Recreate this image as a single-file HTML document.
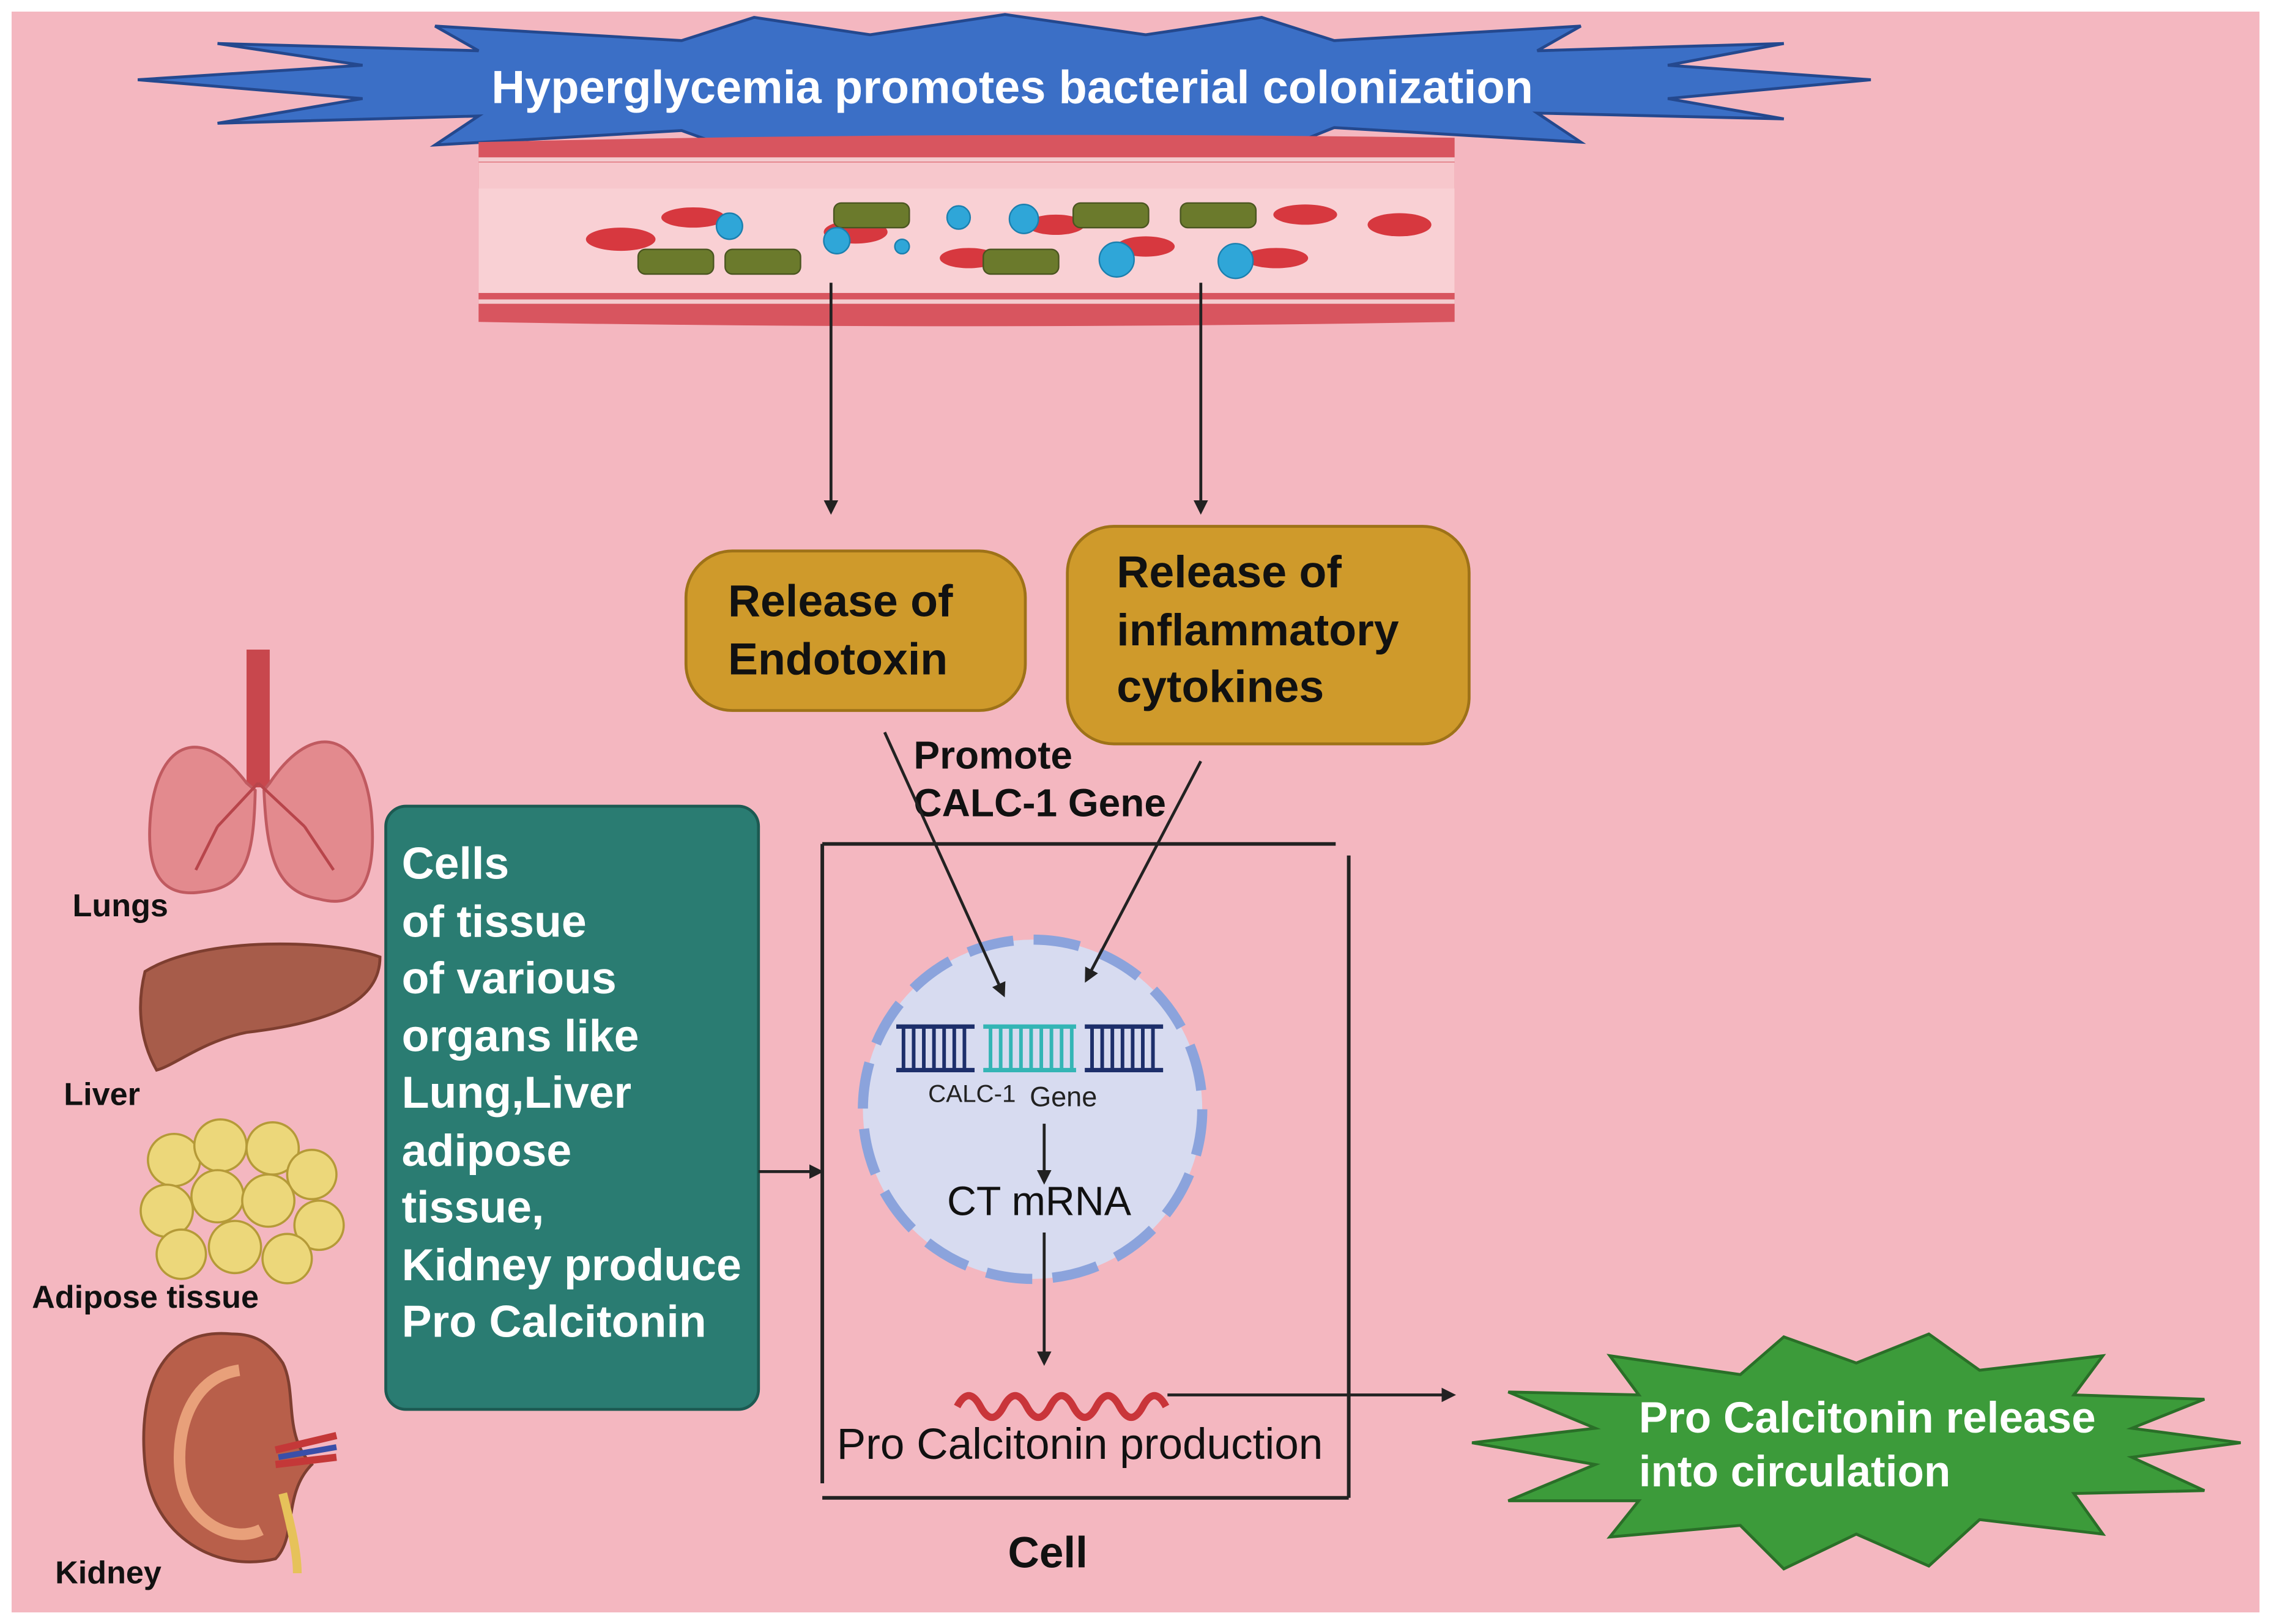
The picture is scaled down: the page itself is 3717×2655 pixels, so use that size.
<!DOCTYPE html>
<html><head><meta charset="utf-8"><style>
html,body{margin:0;padding:0;background:#fff;}
svg{display:block;}
text{font-family:"Liberation Sans",sans-serif;}
</style></head><body>
<svg width="3717" height="2655" viewBox="0 0 1568 1120" xmlns="http://www.w3.org/2000/svg">
<defs>
<marker id="ah" markerWidth="10" markerHeight="10" refX="8" refY="5" orient="auto" markerUnits="userSpaceOnUse"><path d="M0,0 L10,5 L0,10 z" fill="#222"/></marker>
</defs>
<rect x="0" y="0" width="1568" height="1120" fill="#fff"/>
<rect x="8" y="8" width="1550" height="1104" fill="#f4b7c0"/>

<polygon fill="#3b6fc6" stroke="#24488e" stroke-width="2" points="
95,55 250,45 150,30 330,35 300,18 470,28 520,12 600,24 693,10 790,24 870,12 920,28 1090,18 1060,35 1230,30 1150,45 1290,55
1150,68 1230,82 1060,78 1090,98 920,88 870,108 790,95 693,110 600,95 520,108 470,90 300,100 330,80 150,85 250,68"/>
<text x="698" y="71" fill="#fff" font-size="32" font-weight="bold" text-anchor="middle">Hyperglycemia promotes bacterial colonization</text>

<path d="M330,98 Q660,90 1003,95 L1003,222 Q660,228 330,222 Z" fill="#d8555f"/>
<rect x="330" y="112" width="673" height="90" fill="#f7c7cc"/>
<rect x="330" y="130" width="673" height="72" fill="#f9d0d4"/>
<line x1="330" y1="110" x2="1003" y2="110" stroke="#fff" stroke-width="3" opacity="0.7"/>
<line x1="330" y1="208" x2="1003" y2="208" stroke="#fff" stroke-width="3" opacity="0.7"/>
<g fill="#d7383f">
<ellipse cx="428" cy="165" rx="24" ry="8"/><ellipse cx="478" cy="150" rx="22" ry="7"/>
<ellipse cx="590" cy="160" rx="22" ry="8"/><ellipse cx="668" cy="178" rx="20" ry="7"/>
<ellipse cx="728" cy="155" rx="20" ry="7"/><ellipse cx="790" cy="170" rx="20" ry="7"/>
<ellipse cx="900" cy="148" rx="22" ry="7"/><ellipse cx="965" cy="155" rx="22" ry="8"/>
<ellipse cx="880" cy="178" rx="22" ry="7"/>
</g>
<g fill="#6b7a2c" stroke="#4a5520" stroke-width="1">
<rect x="440" y="172" width="52" height="17" rx="5"/><rect x="500" y="172" width="52" height="17" rx="5"/>
<rect x="575" y="140" width="52" height="17" rx="5"/><rect x="678" y="172" width="52" height="17" rx="5"/>
<rect x="740" y="140" width="52" height="17" rx="5"/><rect x="814" y="140" width="52" height="17" rx="5"/>
</g>
<g fill="#2fa6d8" stroke="#1b7fae" stroke-width="1">
<circle cx="503" cy="156" r="9"/><circle cx="577" cy="166" r="9"/><circle cx="622" cy="170" r="5"/>
<circle cx="661" cy="150" r="8"/><circle cx="706" cy="151" r="10"/><circle cx="770" cy="179" r="12"/>
<circle cx="852" cy="180" r="12"/>
</g>

<line x1="573" y1="195" x2="573" y2="353" stroke="#222" stroke-width="2" marker-end="url(#ah)"/>
<line x1="828" y1="195" x2="828" y2="353" stroke="#222" stroke-width="2" marker-end="url(#ah)"/>

<rect x="473" y="380" width="234" height="110" rx="32" fill="#cf9a2b" stroke="#9e7218" stroke-width="2"/>
<text x="502" y="425" font-size="31" font-weight="bold" fill="#111">Release of</text>
<text x="502" y="465" font-size="31" font-weight="bold" fill="#111">Endotoxin</text>
<rect x="736" y="363" width="277" height="150" rx="32" fill="#cf9a2b" stroke="#9e7218" stroke-width="2"/>
<text x="770" y="405" font-size="31" font-weight="bold" fill="#111">Release of</text>
<text x="770" y="445" font-size="31" font-weight="bold" fill="#111">inflammatory</text>
<text x="770" y="484" font-size="31" font-weight="bold" fill="#111">cytokines</text>

<text x="630" y="530" font-size="27" font-weight="bold" fill="#111">Promote</text>
<text x="630" y="563" font-size="27" font-weight="bold" fill="#111">CALC-1 Gene</text>

<g stroke="#222" stroke-width="2.5" fill="none">
<line x1="567" y1="582" x2="921" y2="582"/>
<line x1="567" y1="582" x2="567" y2="1023"/>
<line x1="930" y1="590" x2="930" y2="1033"/>
<line x1="567" y1="1033" x2="930" y2="1033"/>
</g>
<circle cx="712" cy="765" r="117" fill="#d7dbf0" stroke="#8ba3dc" stroke-width="7" stroke-dasharray="32 14"/>
<g stroke-width="3">
<line x1="618" y1="708" x2="672" y2="708" stroke="#1d2f6b"/><line x1="618" y1="738" x2="672" y2="738" stroke="#1d2f6b"/>
<line x1="678" y1="708" x2="742" y2="708" stroke="#34b5b5"/><line x1="678" y1="738" x2="742" y2="738" stroke="#34b5b5"/>
<line x1="748" y1="708" x2="802" y2="708" stroke="#1d2f6b"/><line x1="748" y1="738" x2="802" y2="738" stroke="#1d2f6b"/>
</g>
<g stroke-width="2.5">
<path d="M623,708V738M630,708V738M637,708V738M644,708V738M651,708V738M658,708V738M665,708V738" stroke="#1d2f6b"/>
<path d="M683,708V738M690,708V738M697,708V738M704,708V738M711,708V738M718,708V738M725,708V738M732,708V738M739,708V738" stroke="#34b5b5"/>
<path d="M753,708V738M760,708V738M767,708V738M774,708V738M781,708V738M788,708V738M795,708V738" stroke="#1d2f6b"/>
</g>
<text x="640" y="760" font-size="17" fill="#222">CALC-1</text>
<text x="710" y="763" font-size="19" fill="#222">Gene</text>
<line x1="720" y1="775" x2="720" y2="815" stroke="#222" stroke-width="2" marker-end="url(#ah)"/>
<text x="653" y="838" font-size="28" fill="#111">CT mRNA</text>
<line x1="720" y1="850" x2="720" y2="940" stroke="#222" stroke-width="2" marker-end="url(#ah)"/>
<path d="M660,970 q8,-15 16,0 q8,15 16,0 q8,-15 16,0 q8,15 16,0 q8,-15 16,0 q8,15 16,0 q8,-15 16,0 q8,15 16,0 q8,-15 16,0" fill="none" stroke="#c9353a" stroke-width="5"/>
<text x="577" y="1006" font-size="30" fill="#111">Pro Calcitonin production</text>
<line x1="805" y1="962" x2="1002" y2="962" stroke="#222" stroke-width="2" marker-end="url(#ah)"/>
<text x="695" y="1081" font-size="30" font-weight="bold" fill="#111">Cell</text>

<line x1="610" y1="505" x2="692" y2="686" stroke="#222" stroke-width="2" marker-end="url(#ah)"/>
<line x1="828" y1="525" x2="749" y2="676" stroke="#222" stroke-width="2" marker-end="url(#ah)"/>

<rect x="266" y="556" width="257" height="416" rx="14" fill="#2a7c72" stroke="#1c5a52" stroke-width="2"/>
<g font-size="31" font-weight="bold" fill="#fff">
<text x="277" y="606">Cells</text><text x="277" y="646">of tissue</text><text x="277" y="685">of various</text>
<text x="277" y="725">organs like</text><text x="277" y="764">Lung,Liver</text><text x="277" y="804">adipose</text>
<text x="277" y="843">tissue,</text><text x="277" y="883">Kidney produce</text><text x="277" y="922">Pro Calcitonin</text>
</g>
<line x1="523" y1="808" x2="566" y2="808" stroke="#222" stroke-width="2" marker-end="url(#ah)"/>

<polygon fill="#3c9b3a" stroke="#2a6f28" stroke-width="2" points="
1015,995 1100,985 1040,960 1130,962 1110,935 1200,948 1230,922 1280,940 1330,920 1365,945 1450,935 1430,962 1520,965 1470,985 1545,995
1470,1005 1520,1028 1430,1030 1450,1058 1365,1048 1330,1080 1280,1058 1230,1082 1200,1052 1110,1060 1130,1035 1040,1035 1100,1010"/>
<text x="1130" y="988" font-size="30" font-weight="bold" fill="#fff">Pro Calcitonin release</text>
<text x="1130" y="1025" font-size="30" font-weight="bold" fill="#fff">into circulation</text>

<rect x="170" y="448" width="16" height="95" fill="#c8474d"/>
<path d="M170,540 C140,500 110,510 104,560 C100,600 110,620 140,615 C170,612 175,590 176,545 Z" fill="#e38a8e" stroke="#c05a60" stroke-width="2"/>
<path d="M186,540 C216,495 250,505 256,560 C260,605 250,628 220,620 C190,615 184,590 182,545 Z" fill="#e38a8e" stroke="#c05a60" stroke-width="2"/>
<path d="M178,540 L150,570 M178,540 L210,570 M150,570 L135,600 M210,570 L230,600" stroke="#b8454b" stroke-width="2" fill="none"/>
<text x="50" y="632" font-size="22" font-weight="bold" fill="#111">Lungs</text>
<path d="M100,670 C140,645 230,648 262,660 C262,690 230,705 170,712 C140,718 120,735 108,738 C95,715 95,690 100,670 Z" fill="#a75c4a" stroke="#7e3e30" stroke-width="2"/>
<text x="44" y="762" font-size="22" font-weight="bold" fill="#111">Liver</text>
<g fill="#ecd77a" stroke="#b59a38" stroke-width="1.5">
<circle cx="120" cy="800" r="18"/><circle cx="152" cy="790" r="18"/><circle cx="188" cy="792" r="18"/><circle cx="215" cy="810" r="17"/>
<circle cx="115" cy="835" r="18"/><circle cx="150" cy="825" r="18"/><circle cx="185" cy="828" r="18"/><circle cx="220" cy="845" r="17"/>
<circle cx="125" cy="865" r="17"/><circle cx="162" cy="860" r="18"/><circle cx="198" cy="868" r="17"/>
</g>
<text x="22" y="902" font-size="22" font-weight="bold" fill="#111">Adipose tissue</text>
<path d="M160,920 C110,915 95,960 100,1010 C105,1060 150,1085 190,1075 C205,1060 195,1030 215,1010 C195,990 205,960 195,940 C185,925 175,920 160,920 Z" fill="#b85f4a" stroke="#7e3e30" stroke-width="2"/>
<path d="M165,945 C130,950 120,990 125,1020 C130,1050 160,1065 180,1055" fill="none" stroke="#e8a07a" stroke-width="8"/>
<path d="M190,1000 L232,990 M190,1010 L232,1005" stroke="#c43838" stroke-width="5"/>
<path d="M192,1005 L232,998" stroke="#3a4fa8" stroke-width="4"/>
<path d="M195,1030 C200,1050 205,1070 205,1085" stroke="#e6c25a" stroke-width="6" fill="none"/>
<text x="38" y="1092" font-size="22" font-weight="bold" fill="#111">Kidney</text>
</svg>
</body></html>
